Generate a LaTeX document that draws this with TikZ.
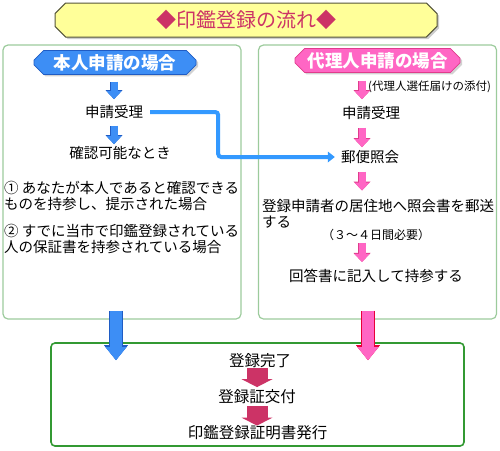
\documentclass[tikz,border=0pt]{standalone}
\usepackage{fontspec}
\setmainfont{Noto Sans CJK JP}
\usetikzlibrary{shapes.misc,arrows.meta,shadows}

\definecolor{titleyellow}{HTML}{FFFF99}
\definecolor{titleline}{HTML}{55553A}
\definecolor{crimson}{HTML}{CC3366}
\definecolor{honblue}{HTML}{3D8EF5}
\definecolor{hondark}{HTML}{1F5CC4}
\definecolor{linkblue}{HTML}{3399FF}
\definecolor{dairipink}{HTML}{FF66C4}
\definecolor{dairidark}{HTML}{E03C8C}
\definecolor{dairired}{HTML}{E8003A}
\definecolor{panelgreen}{HTML}{9CCB9C}
\definecolor{boxgreen}{HTML}{339933}

\tikzset{
  txt/.style={inner sep=0pt, font=\fontsize{14.5}{16}\selectfont},
  txtblock/.style={txt, anchor=north west, align=left},
  bigtxt/.style={inner sep=0pt, font=\fontsize{15.5}{17}\selectfont},
  headbox/.style={chamfered rectangle, chamfered rectangle xsep=6pt,
    draw=#1, line width=0.8pt, minimum height=23pt, inner sep=0pt,
    text=white, font=\fontsize{17.5}{17.5}\selectfont\bfseries,
    drop shadow={shadow xshift=2pt, shadow yshift=-2pt, fill=black!35}},
  panel/.style={draw=panelgreen, line width=1.2pt, rounded corners=5pt,
    minimum width=238pt, minimum height=274pt},
  smallarrow/.style 2 args={line width=7pt, draw=#1,
    -{Triangle[line width=0pt, width=15pt, length=8pt]},
    preaction={draw=#2, line width=8pt,
      -{Triangle[line width=0pt, width=17pt, length=9pt]}}},
  bigarrow/.style 2 args={line width=12pt, draw=#1,
    -{Triangle[line width=0pt, width=21pt, length=13pt]},
    preaction={draw=#2, line width=14pt,
      -{Triangle[line width=0pt, width=24pt, length=15pt]}}},
  stamparrow/.style={line width=21pt, draw=crimson,
    -{Triangle[line width=0pt, width=31pt, length=8pt]}},
  link/.style={draw=linkblue, line width=4pt, rounded corners=3pt,
    -{Triangle[line width=0pt, width=11pt, length=7pt]}}
}

\begin{document}
\begin{tikzpicture}[x=1pt, y=-1pt]
\useasboundingbox (0,0) rectangle (500,450);

% title
\node[chamfered rectangle, chamfered rectangle xsep=7pt, draw=titleline,
  fill=titleyellow, line width=1pt, minimum width=382pt, minimum height=34pt,
  drop shadow={shadow xshift=2pt, shadow yshift=-2pt, fill=black!40},
  text=crimson, font=\fontsize{20}{20}\selectfont] (title) at (246,20)
  {◆印鑑登録の流れ◆};

% panels
\node[panel] (lpanel) at (122,182) {};
\node[panel] (rpanel) at (377.5,182) {};
\node[draw=boxgreen, line width=1.6pt, rounded corners=4pt,
  minimum width=413pt, minimum height=103pt] (final) at (257.5,394.5) {};

\coordinate (lx) at (114,0);
\coordinate (rx) at (362,0);
\coordinate (bx) at (257,0);
\coordinate (bl) at (116,0);
\coordinate (br) at (368,0);

% honnin
\node[headbox=hondark, fill=honblue, minimum width=162pt] (hhead) at (115,62.5) {本人申請の場合};
\node[txt] (huke) at (114,112) {申請受理};
\node[txt] (hkaku) at (120,153) {確認可能なとき};
\node[txtblock] (hcase1) at (4,181.5) {① あなたが本人であると確認できる\\ものを持参し、提示された場合};
\node[txtblock] (hcase2) at (4,224.5) {② すでに当市で印鑑登録されている\\人の保証書を持参されている場合};

\draw[smallarrow={honblue}{hondark}, shorten <=7pt, shorten >=6pt] (lx |- hhead.south) -- (lx |- huke.north);
\draw[smallarrow={honblue}{hondark}, shorten <=7pt, shorten >=2pt] (lx |- huke.south) -- (lx |- hkaku.north);

% dairinin
\node[headbox=dairidark, fill=dairipink, minimum width=165pt] (rhead) at (377.5,60.5) {代理人申請の場合};
\node[anchor=west, inner sep=0pt, font=\fontsize{11.5}{12}\selectfont] (rnote) at (368,87) {(代理人選任届けの添付)};
\node[txt] (ruke) at (371,113) {申請受理};
\node[txt] (rpost) at (370,157) {郵便照会};
\node[txtblock] (rsend) at (262,199.5) {登録申請者の居住地へ照会書を郵送\\する};
\node[inner sep=0pt, font=\fontsize{12}{12}\selectfont] (rfull) at (376,235) {（３～４日間必要）};
\node[txt] (rans) at (376,276) {回答書に記入して持参する};

\draw[smallarrow={dairipink}{dairidark}, shorten <=8pt, shorten >=7pt] (rx |- rhead.south) -- (rx |- ruke.north);
\draw[smallarrow={dairipink}{dairidark}, shorten <=8pt, shorten >=3pt] (rx |- ruke.south) -- (rx |- rpost.north);
\draw[smallarrow={dairipink}{dairidark}, shorten <=8pt, shorten >=9pt] (rx |- rpost.south) -- (rx |- rsend.north);
\draw[smallarrow={dairipink}{dairidark}, shorten <=2pt, shorten >=7pt] (rx |- rfull.south) -- (rx |- rans.north);

% link honnin -> yubin
\draw[link, shorten <=7pt, shorten >=6pt] (huke.east) -- ++(75,0) |- (rpost.west);

% to final
\draw[bigarrow={honblue}{hondark}, shorten <=-9pt, shorten >=-18pt] (bl |- lpanel.south) -- (bl |- final.north);
\draw[bigarrow={dairipink}{dairired}, shorten <=-9pt, shorten >=-18pt] (br |- rpanel.south) -- (br |- final.north);

\node[bigtxt] (done) at (260,361) {登録完了};
\node[bigtxt] (issue) at (257,397) {登録証交付};
\node[bigtxt] (cert) at (257.5,433) {印鑑登録証明書発行};

\draw[stamparrow, shorten >=2.5pt] (bx |- done.south) -- (bx |- issue.north);
\draw[stamparrow, shorten <=1.5pt] (bx |- issue.south) -- (bx |- cert.north);
\end{tikzpicture}
\end{document}
